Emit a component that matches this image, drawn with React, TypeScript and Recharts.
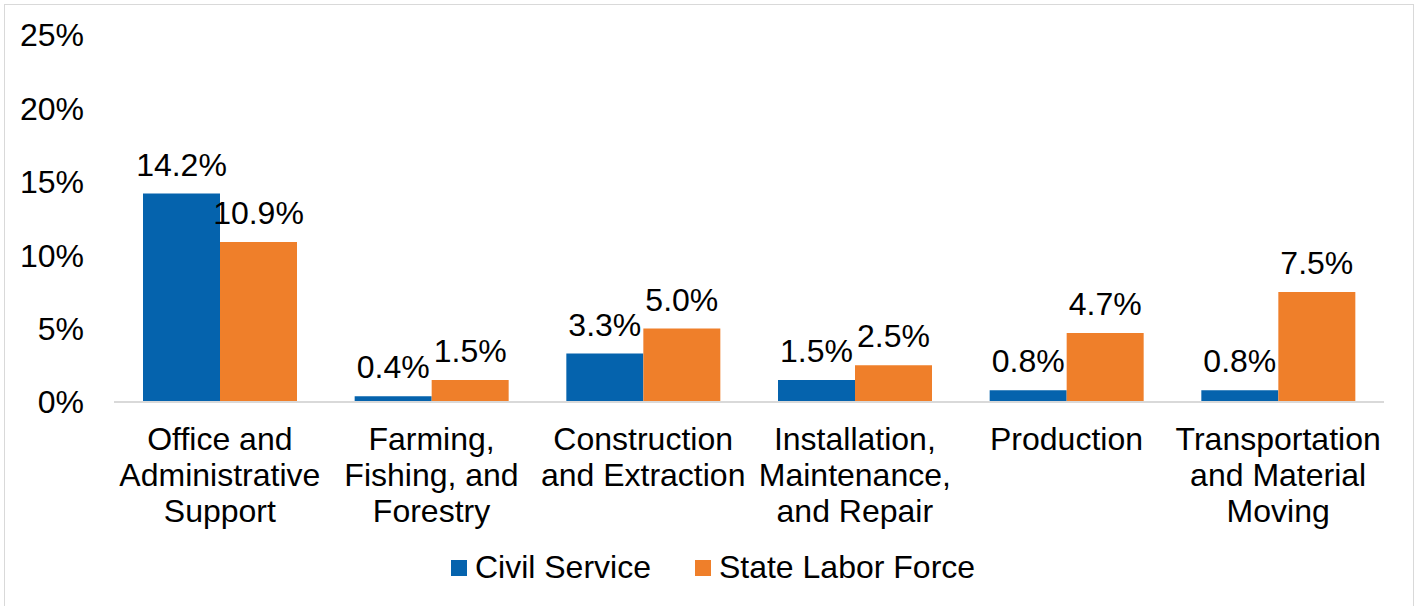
import React from 'react';
import { BarChart, Bar, XAxis, YAxis, Legend, LabelList } from 'recharts';

const categories: string[][] = [
  ['Office and', 'Administrative', 'Support'],
  ['Farming,', 'Fishing, and', 'Forestry'],
  ['Construction', 'and Extraction'],
  ['Installation,', 'Maintenance,', 'and Repair'],
  ['Production'],
  ['Transportation', 'and Material', 'Moving'],
];
const civilService = [14.2, 0.4, 3.3, 1.5, 0.8, 0.8];
const stateLaborForce = [10.9, 1.5, 5.0, 2.5, 4.7, 7.5];
const yTicks = [0, 5, 10, 15, 20, 25];

const BLUE = '#0563AD';
const ORANGE = '#EF7F2A';
const FONT = '"Liberation Sans", Arial, sans-serif';
const FS = 32;

const data = categories.map((lines, i) => ({
  name: lines.join(' '),
  civil: civilService[i],
  state: stateLaborForce[i],
}));

function CategoryTick(props: any) {
  const { x, y, payload } = props;
  const lines = categories[payload.index] || [payload.value];
  return (
    <text x={x} y={y} textAnchor="middle" fontSize={FS} fontFamily={FONT} fill="#000">
      {lines.map((line, i) => (
        <tspan key={i} x={x} dy={i === 0 ? 48 : 36}>{line}</tspan>
      ))}
    </text>
  );
}

function LegendContent() {
  const items = [
    { label: 'Civil Service', color: BLUE },
    { label: 'State Labor Force', color: ORANGE },
  ];
  return (
    <div style={{ display: 'flex', justifyContent: 'center', alignItems: 'center', gap: 44, fontFamily: FONT, fontSize: FS, color: '#000' }}>
      {items.map((it) => (
        <div key={it.label} style={{ display: 'flex', alignItems: 'center', gap: 8 }}>
          <div style={{ width: 16, height: 16, background: it.color }} />
          <span>{it.label}</span>
        </div>
      ))}
    </div>
  );
}

export default function App() {
  return (
    <div style={{ position: 'fixed', left: 0, top: 0, width: 1418, height: 606, background: '#fff', overflow: 'hidden' }}>
      <div style={{ position: 'absolute', left: 4, top: 4, width: 1408, height: 640, border: '1.5px solid #d9d9d9' }} />
      <div style={{ position: 'absolute', left: 0, top: 0 }}>
        <BarChart
          width={1418}
          height={606}
          data={data}
          margin={{ top: 35, right: 34, bottom: 54, left: 0 }}
          barCategoryGap={29}
          barGap={0}
        >
          <YAxis
            domain={[0, 25]}
            ticks={yTicks}
            width={114}
            axisLine={false}
            tickLine={false}
            tickMargin={24}
            tickFormatter={(v: number) => `${v}%`}
            tick={{ fontSize: FS, fontFamily: FONT, fill: '#000' }}
          />
          <XAxis
            dataKey="name"
            height={150}
            axisLine={{ stroke: '#d9d9d9', strokeWidth: 2 }}
            tickLine={false}
            tickSize={0}
            tickMargin={0}
            interval={0}
            tick={<CategoryTick />}
          />
          <Legend
            verticalAlign="middle"
            layout="horizontal"
            align="center"
            content={<LegendContent />}
            wrapperStyle={{ left: 0, width: 1426, top: 549, bottom: 'auto' }}
          />
          <Bar dataKey="civil" name="Civil Service" fill={BLUE} isAnimationActive={false}>
            <LabelList
              dataKey="civil"
              position="top"
              offset={18}
              formatter={(v: number) => `${v.toFixed(1)}%`}
              style={{ fontSize: FS, fontFamily: FONT, fill: '#000' }}
            />
          </Bar>
          <Bar dataKey="state" name="State Labor Force" fill={ORANGE} isAnimationActive={false}>
            <LabelList
              dataKey="state"
              position="top"
              offset={18}
              formatter={(v: number) => `${v.toFixed(1)}%`}
              style={{ fontSize: FS, fontFamily: FONT, fill: '#000' }}
            />
          </Bar>
        </BarChart>
      </div>
    </div>
  );
}
